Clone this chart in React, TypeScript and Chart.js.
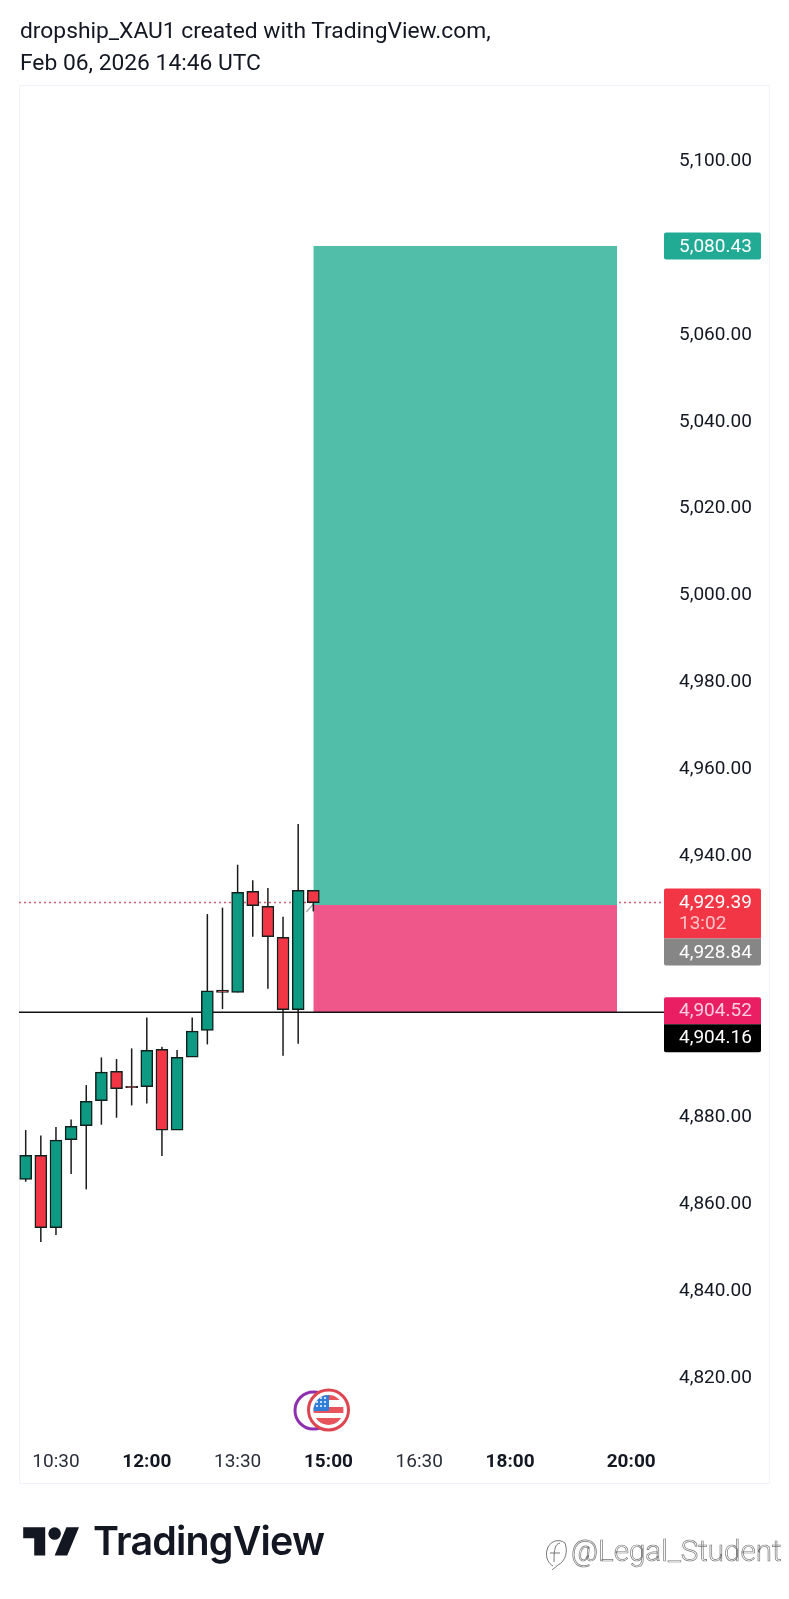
import React, { useEffect, useRef } from "react";
import { Chart, registerables } from "chart.js";

Chart.register(...registerables);

// 15-minute candles, minutes since midnight (10:00 ... 14:45)
const candleTimes = [600, 615, 630, 645, 660, 675, 690, 705, 720, 735, 750, 765, 780, 795, 810, 825, 840, 855, 870, 885];
const opens = [4865.69, 4871.21, 4854.57, 4874.81, 4878.04, 4883.79, 4890.54, 4887.1, 4887.01, 4895.6, 4877.04, 4893.84, 4899.97, 4909.25, 4908.71, 4931.95, 4928.5, 4921.37, 4904.73, 4932.18];
const closes = [4871.21, 4854.57, 4874.74, 4877.88, 4883.63, 4890.38, 4886.55, 4886.8, 4895.37, 4877.04, 4893.76, 4899.82, 4909.1, 4908.71, 4931.72, 4928.66, 4921.52, 4904.73, 4932.18, 4929.35];
const highs = [4877.04, 4875.81, 4877.73, 4879.49, 4887.39, 4893.76, 4893.38, 4895.83, 4902.96, 4896.21, 4895.45, 4902.96, 4926.74, 4928.2, 4938.09, 4934.49, 4932.72, 4926.13, 4947.45, 4932.18];
const lows = [4865.15, 4851.27, 4852.88, 4866.91, 4863.39, 4878.27, 4879.88, 4882.71, 4883.17, 4871.06, 4877.04, 4893.84, 4896.75, 4904.88, 4908.71, 4921.52, 4909.56, 4894.14, 4896.9, 4927.35];

const priceTicks = [4820, 4840, 4860, 4880, 4940, 4960, 4980, 5000, 5020, 5040, 5060, 5100];
const timeTicks = [630, 720, 810, 900, 990, 1080, 1200];
const boldTimes = [720, 900, 1080, 1200];

const targetPrice = 5080.43;
const entryPrice = 4928.84;
const stopPrice = 4904.52;
const lastPrice = 4929.39;
const linePrice = 4904.16;
const countdown = "13:02";
const toolStart = 885;
const toolEnd = 1186;
const arrowTimes = [878, 885];
const arrowPrices = [4927.2, 4929.0];

const UP = "#0e9a82";
const DOWN = "#f23645";
const INK = "#131722";
const FONT = "Roboto";

const fmt = (v: number) =>
  v.toLocaleString("en-US", { minimumFractionDigits: 2, maximumFractionDigits: 2 });
const clock = (m: number) =>
  `${String(Math.floor(m / 60)).padStart(2, "0")}:${String(m % 60).padStart(2, "0")}`;

const panelPlugin = {
  id: "panel",
  beforeDraw(chart: any) {
    const { ctx } = chart;
    ctx.save();
    ctx.fillStyle = "#ffffff";
    ctx.fillRect(0, 0, chart.width, chart.height);
    ctx.strokeStyle = "#f0f3fa";
    ctx.lineWidth = 1;
    ctx.strokeRect(19.5, 85.5, 750, 1398);
    ctx.restore();
  },
};

function tag(ctx: any, x: number, top: number, h: number, fill: string, radius: number[]) {
  ctx.fillStyle = fill;
  ctx.beginPath();
  ctx.roundRect(x, top, 97, h, radius);
  ctx.fill();
}

const tagsPlugin = {
  id: "tags",
  afterDraw(chart: any) {
    const { ctx } = chart;
    const y = chart.scales.y;
    const x = chart.chartArea.right;
    const tx = x + 15;
    const H = 27;
    ctx.save();
    ctx.textBaseline = "middle";
    ctx.textAlign = "left";
    ctx.font = `19px ${FONT}`;

    const text = (s: string, cy: number, c: string) => {
      ctx.fillStyle = c;
      ctx.fillText(s, tx, cy + 1);
    };

    const ty = y.getPixelForValue(targetPrice);
    tag(ctx, x, ty - H / 2, H, "#22ab94", [2, 2, 2, 2]);
    text(fmt(targetPrice), ty, "#ffffff");

    const ly = y.getPixelForValue(lastPrice);
    const redTop = ly - 14;
    tag(ctx, x, redTop, 50, DOWN, [2, 2, 0, 0]);
    text(fmt(lastPrice), ly, "#ffffff");
    text(countdown, ly + 21, "#fbc4c9");
    tag(ctx, x, redTop + 50, H, "#868686", [0, 0, 2, 2]);
    text(fmt(entryPrice), redTop + 50 + H / 2, "#ffffff");

    const sy = y.getPixelForValue(stopPrice);
    const pinkTop = sy - H / 2;
    tag(ctx, x, pinkTop, H, "#e91e63", [2, 2, 0, 0]);
    text(fmt(stopPrice), sy, "#fbcfe0");
    tag(ctx, x, pinkTop + H, H + 1, "#000000", [0, 0, 2, 2]);
    text(fmt(linePrice), pinkTop + H + H / 2, "#ffffff");
    ctx.restore();
  },
};

export default function App() {
  const ref = useRef<HTMLCanvasElement | null>(null);

  useEffect(() => {
    if (!ref.current) return;
    const wickData = candleTimes.map((t, i) => ({ x: t, y: [lows[i], highs[i]] }));
    const bodyData = candleTimes.map((t, i) => ({ x: t, y: [opens[i], closes[i]] }));
    const bodyColors = candleTimes.map((_, i) => (closes[i] >= opens[i] ? UP : DOWN));
    const xMin = 593.36;
    const xMax = 1232.5;

    const chart = new Chart(ref.current, {
      type: "bar",
      data: {
        datasets: [
          {
            type: "line",
            label: "last",
            data: [{ x: xMin, y: lastPrice }, { x: xMax, y: lastPrice }],
            borderColor: "#cf5f73",
            borderWidth: 1.5,
            borderDash: [2, 3],
            pointRadius: 0,
            order: 8,
          },
          {
            type: "line",
            label: "profit",
            data: [{ x: toolStart, y: targetPrice }, { x: toolEnd, y: targetPrice }],
            borderWidth: 0,
            borderColor: "rgba(0,0,0,0)",
            backgroundColor: "#51bea9",
            pointRadius: 0,
            fill: { value: entryPrice },
            order: 7,
          },
          {
            type: "line",
            label: "risk",
            data: [{ x: toolStart, y: linePrice }, { x: toolEnd, y: linePrice }],
            borderWidth: 0,
            borderColor: "rgba(0,0,0,0)",
            backgroundColor: "#ef5689",
            pointRadius: 0,
            fill: { value: entryPrice },
            order: 6,
          },
          {
            type: "line",
            label: "level",
            data: [{ x: xMin, y: linePrice }, { x: xMax, y: linePrice }],
            borderColor: "#111111",
            borderWidth: 1.5,
            pointRadius: 0,
            order: 5,
          },
          {
            type: "line",
            label: "cursor",
            data: arrowTimes.map((x, i) => ({ x, y: arrowPrices[i] })),
            borderColor: "#a9adb5",
            borderWidth: 1.5,
            pointRadius: 0,
            order: 3,
          },
          {
            type: "bar",
            label: "wick",
            data: wickData,
            backgroundColor: "#1b1b1b",
            borderWidth: 0,
            barThickness: 1.5,
            inflateAmount: 0,
            grouped: false,
            order: 2,
          },
          {
            type: "bar",
            label: "body",
            data: bodyData,
            backgroundColor: bodyColors,
            borderColor: "#10201c",
            borderWidth: 1.5,
            borderSkipped: false,
            barThickness: 12,
            grouped: false,
            order: 1,
          },
        ],
      } as any,
      options: {
        animation: false,
        responsive: false,
        maintainAspectRatio: false,
        layout: {
          autoPadding: false,
          padding: { left: 19, top: 85, right: 19, bottom: 115 },
        },
        plugins: { legend: { display: false }, tooltip: { enabled: false } },
        scales: {
          x: {
            type: "linear",
            offset: false,
            min: xMin,
            max: xMax,
            grid: { display: false, offset: false },
            border: { display: false },
            afterFit(s: any) {
              s.height = 42;
            },
            afterBuildTicks(s: any) {
              s.ticks = timeTicks.map((value) => ({ value }));
            },
            ticks: {
              autoSkip: false,
              maxRotation: 0,
              padding: 1,
              color: (c: any) => (boldTimes.includes(c.tick?.value) ? "#131722" : "#2a2e39"),
              font: (c: any) => ({
                family: FONT,
                size: 19,
                weight: boldTimes.includes(c.tick?.value) ? "bold" : "normal",
              }),
              callback: (v: any) => clock(Number(v)),
            },
          },
          y: {
            type: "linear",
            position: "right",
            min: 4805.27,
            max: 5117.49,
            grid: { display: false, drawTicks: false },
            border: { display: false },
            afterFit(s: any) {
              s.width = 106;
            },
            afterBuildTicks(s: any) {
              s.ticks = priceTicks.map((value) => ({ value }));
            },
            ticks: {
              autoSkip: false,
              padding: 15,
              color: INK,
              font: { family: FONT, size: 19 },
              callback: (v: any) => fmt(Number(v)),
            },
          },
        },
      } as any,
      plugins: [panelPlugin, tagsPlugin],
    });
    return () => chart.destroy();
  }, []);

  return (
    <div
      style={{
        position: "absolute",
        left: 0,
        top: 0,
        width: 789,
        height: 1599,
        background: "#fff",
        overflow: "hidden",
        fontFamily: FONT,
      }}
    >
      <canvas
        ref={ref}
        width={789}
        height={1599}
        style={{ position: "absolute", left: 0, top: 0, width: 789, height: 1599 }}
      />
      <div
        style={{
          position: "absolute",
          left: 20,
          top: 15,
          fontSize: 22.8,
          lineHeight: "31.5px",
          color: INK,
          whiteSpace: "nowrap",
        }}
      >
        dropship_XAU1 created with TradingView.com,
        <br />
        Feb 06, 2026 14:46 UTC
      </div>

      {/* event markers */}
      <svg style={{ position: "absolute", left: 288, top: 1384 }} width={68} height={52} viewBox="0 0 68 52">
        <circle cx={25.5} cy={26.5} r={18.5} fill="#fff" stroke="#8e2fb0" strokeWidth={3} />
        <circle cx={40.5} cy={26} r={20} fill="#fff" stroke="#dd4550" strokeWidth={3} />
        <clipPath id="flag">
          <circle cx={40.5} cy={26} r={15} />
        </clipPath>
        <g clipPath="url(#flag)">
          <rect x={25} y={10} width={32} height={32} fill="#fff" />
          <rect x={25} y={11} width={32} height={5} fill="#e8545c" />
          <rect x={25} y={23} width={32} height={6} fill="#e8545c" />
          <rect x={25} y={34} width={32} height={8} fill="#e8545c" />
          <rect x={25} y={10} width={16} height={17} fill="#2f7fd8" />
          {[29, 33, 37].map((cx) =>
            [14, 18, 22].map((cy) => <circle key={`${cx}-${cy}`} cx={cx} cy={cy} r={1} fill="#fff" />)
          )}
        </g>
      </svg>

      {/* TradingView logo */}
      <svg style={{ position: "absolute", left: 23, top: 1521 }} width={57} height={44} viewBox="0 0 36 28">
        <path d="M14 22H7V11H0V4h14v18zM28 22h-8l7.5-18h8L28 22z" fill="#131722" />
        <circle cx={20} cy={8} r={4} fill="#131722" />
      </svg>
      <div
        style={{
          position: "absolute",
          left: 93,
          top: 1518,
          fontFamily: "Inter",
          fontWeight: 600,
          fontSize: 39.4,
          lineHeight: "46px",
          letterSpacing: "-0.8px",
          color: "#131722",
        }}
      >
        TradingView
      </div>

      {/* watermark */}
      <svg style={{ position: "absolute", left: 543, top: 1538 }} width={26} height={34} viewBox="0 0 26 34">
        <path
          d="M22 5 C16 0 6 3 4 12 C2 20 6 26 10 28 M22 5 C25 13 23 23 15 27 L9 32 M17 5 C12 6 11 11 11 24 M7 15 L17 15"
          fill="none"
          stroke="#777"
          strokeWidth={1}
        />
      </svg>
      <div
        style={{
          position: "absolute",
          left: 571,
          top: 1532,
          fontWeight: 300,
          fontSize: 29.6,
          lineHeight: "38px",
          color: "#fff",
          WebkitTextStroke: "0.7px #777",
          whiteSpace: "nowrap",
        } as any}
      >
        @Legal_Student
      </div>
    </div>
  );
}
